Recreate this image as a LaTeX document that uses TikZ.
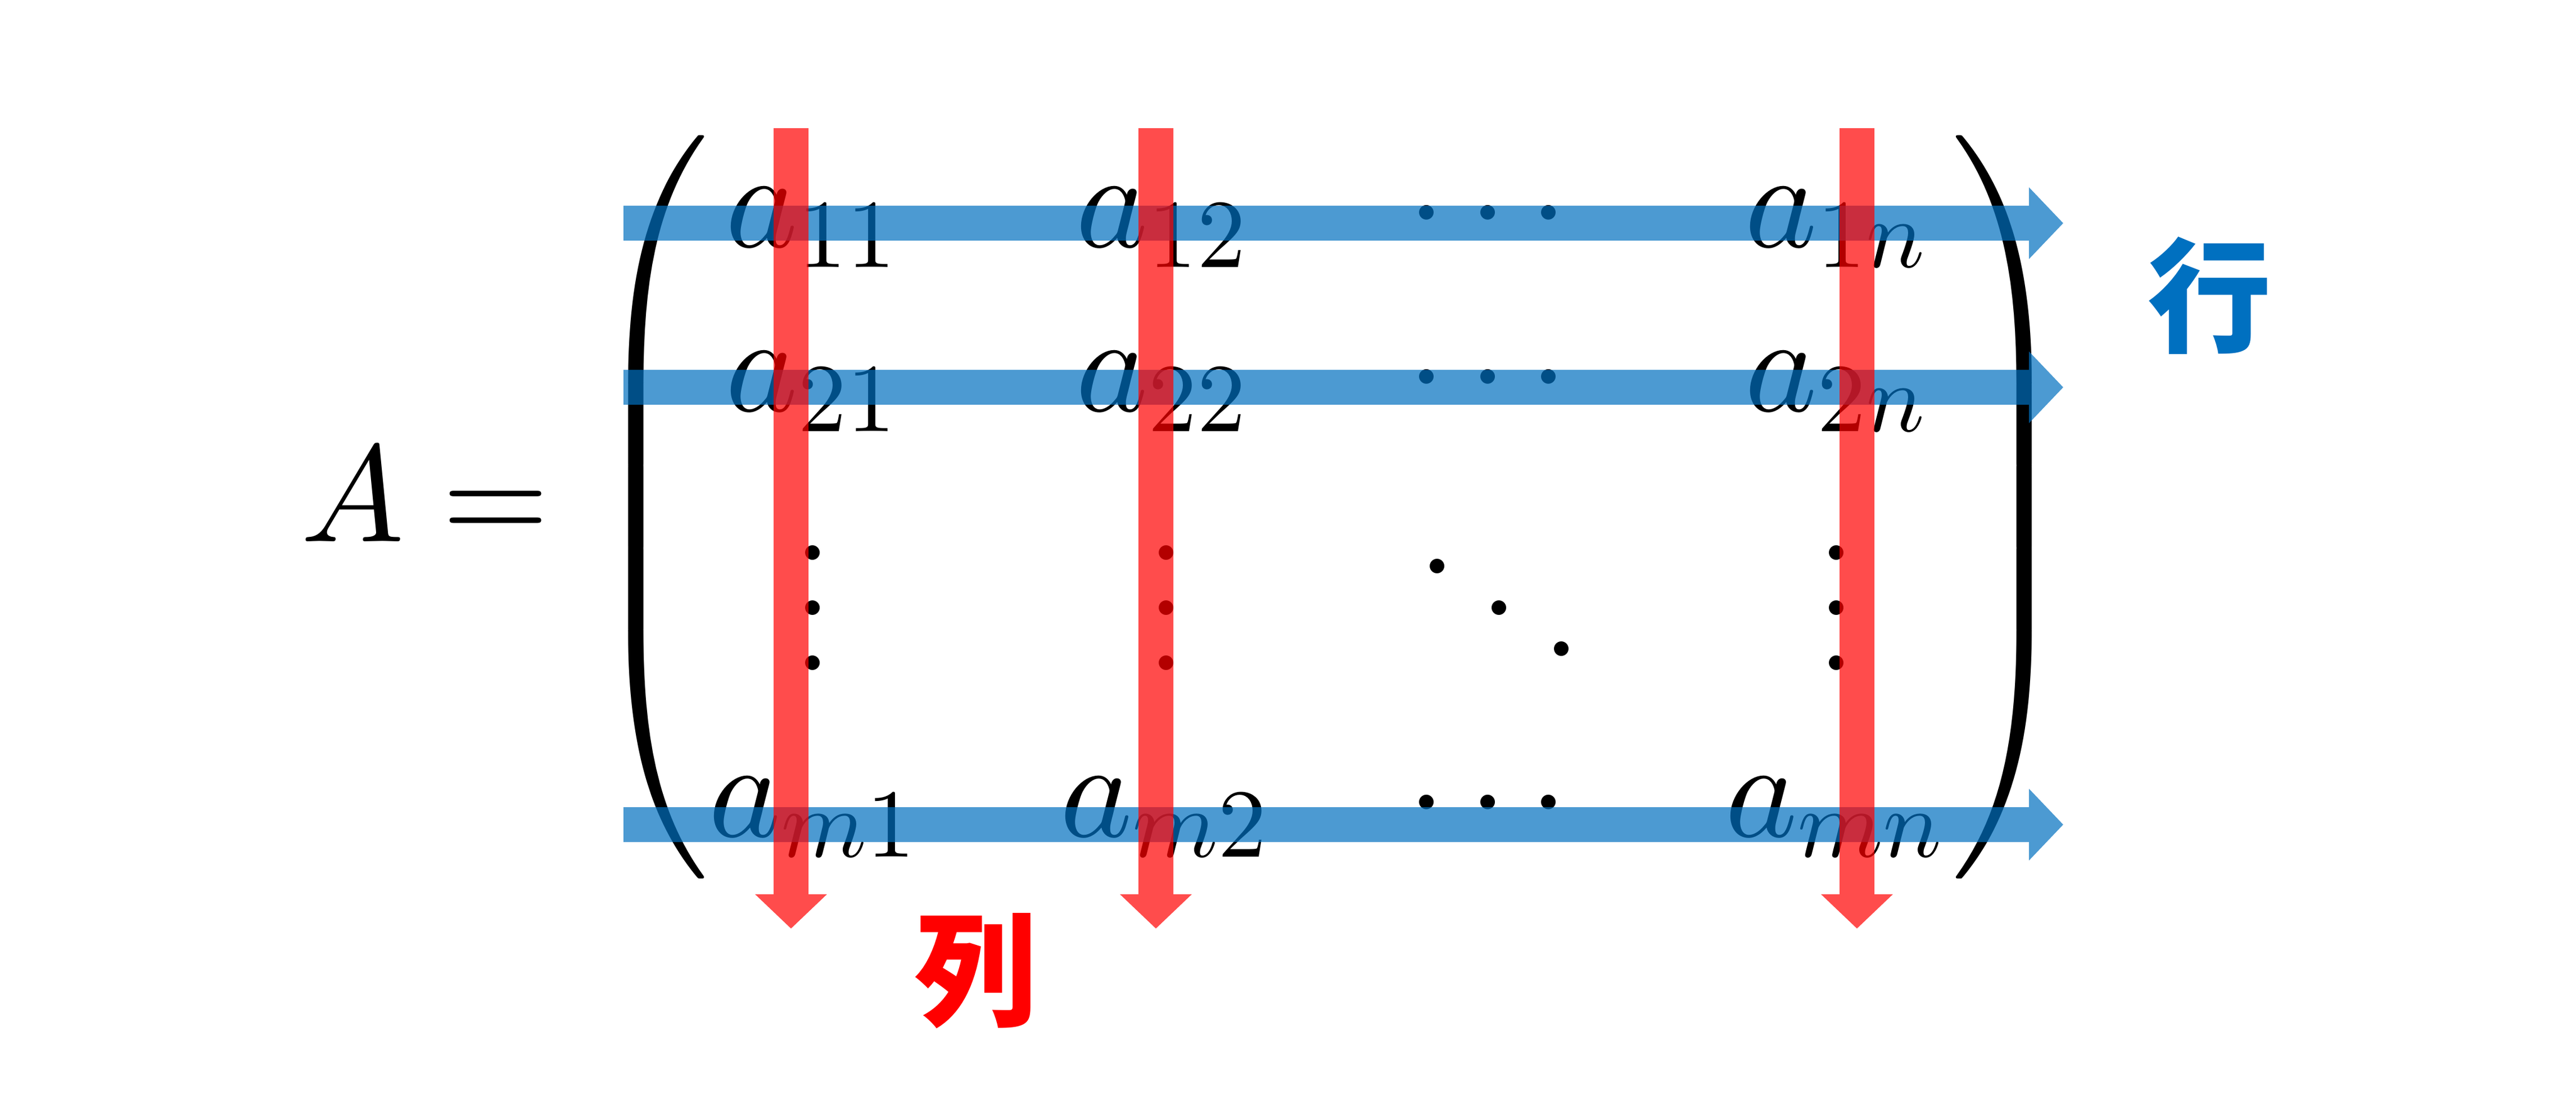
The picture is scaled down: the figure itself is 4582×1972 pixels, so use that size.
\documentclass[tikz,border=0pt]{standalone}
\usepackage{amsmath}
\usepackage{graphicx}
\usepackage[no-math]{fontspec}
\newfontfamily\cjk{Noto Sans CJK JP}
\usetikzlibrary{arrows.meta}
% one design size for every math size, scripts at 0.707
\DeclareFontShape{OML}{cmm}{m}{it}{<->cmmi10}{}
\DeclareFontShape{OT1}{cmr}{m}{n}{<->cmr10}{}
\DeclareMathSizes{10}{10}{7.07}{5}
\definecolor{rowblue}{RGB}{0,112,192}
\definecolor{colred}{RGB}{255,0,0}
\newcommand{\Mx}[1]{\scalebox{2.45}{$#1$}}
\newcommand{\myddots}{\mathinner{\mkern1mu\raise7pt\hbox{.}\mkern3.1mu\raise4pt\hbox{.}\mkern3.1mu\raise1pt\hbox{.}\mkern1mu}}
\begin{document}
\begin{tikzpicture}[x=0.1pt,y=-0.1pt,
  ent/.style={inner sep=0pt, outer sep=0pt, anchor=base west},
  ctr/.style={inner sep=0pt, outer sep=0pt, anchor=base},
  bigarrow/.style={line width=6.2pt, line cap=butt, -{Triangle[length=6.1pt,width=12.4pt]}},
  rowarrow/.style={bigarrow, draw=rowblue},
  colarrow/.style={bigarrow, draw=colred},
  label/.style={inner sep=0pt, font={\fontsize{22pt}{22pt}\cjk\bfseries}}]
\fill[white] (0,0) rectangle (4582,1972);
\useasboundingbox (0,0) rectangle (4582,1972);
% left-hand side and parentheses
\node[ent] (A) at (535,963) {\Mx{A =}};
\node[ent] (lp) at (1046,963) {\Mx{\left(\vcenter{\hbox{\rule{0pt}{55pt}}}\right.}};
\node[inner sep=0pt, anchor=base east] (rp) at (3688,963) {\Mx{\left.\vcenter{\hbox{\rule{0pt}{55pt}}}\right)}};
% row 1
\node[ent] (a11) at (1290,439) {\Mx{a_{11}}};
\node[ent] (a12) at (1913,439) {\Mx{a_{12}}};
\node[ctr] (c1) at (2667,439) {\Mx{\cdots}};
\node[ent] (a1n) at (3103,439) {\Mx{a_{1n}}};
% row 2
\node[ent] (a21) at (1290,731) {\Mx{a_{21}}};
\node[ent] (a22) at (1913,731) {\Mx{a_{22}}};
\node[ctr] (c2) at (2667,731) {\Mx{\cdots}};
\node[ent] (a2n) at (3103,731) {\Mx{a_{2n}}};
% dots row
\node[ctr] (v1) at (1446,1192) {\Mx{\vdots}};
\node[ctr] (v2) at (2075,1192) {\Mx{\vdots}};
\node[ctr] (dd) at (2667,1192) {\Mx{\myddots}};
\node[ctr] (v4) at (3267,1192) {\Mx{\vdots}};
% row m
\node[ent] (am1) at (1260,1488) {\Mx{a_{m1}}};
\node[ent] (am2) at (1885,1488) {\Mx{a_{m2}}};
\node[ctr] (cm) at (2667,1488) {\Mx{\cdots}};
\node[ent] (amn) at (3068,1488) {\Mx{a_{mn}}};
% labels
\node[label, text=rowblue] (gyou) at (3930,526) {行};
\node[label, text=colred] (retsu) at (1736,1727) {列};
% arrow end points
\coordinate (r1s) at (1109,397);  \coordinate (r1e) at (3670,397);
\coordinate (r2s) at (1109,689);  \coordinate (r2e) at (3670,689);
\coordinate (r3s) at (1109,1467); \coordinate (r3e) at (3670,1467);
\coordinate (k1s) at (1407,228);  \coordinate (k1e) at (1407,1652);
\coordinate (k2s) at (2056,228);  \coordinate (k2e) at (2056,1652);
\coordinate (k3s) at (3303,228);  \coordinate (k3e) at (3303,1652);
\begin{scope}[transparency group, opacity=0.7]
  \draw[rowarrow] (r1s) -- (r1e);
  \draw[rowarrow] (r2s) -- (r2e);
  \draw[rowarrow] (r3s) -- (r3e);
\end{scope}
\begin{scope}[transparency group, opacity=0.7]
  \draw[colarrow] (k1s) -- (k1e);
  \draw[colarrow] (k2s) -- (k2e);
  \draw[colarrow] (k3s) -- (k3e);
\end{scope}
\end{tikzpicture}
\end{document}
